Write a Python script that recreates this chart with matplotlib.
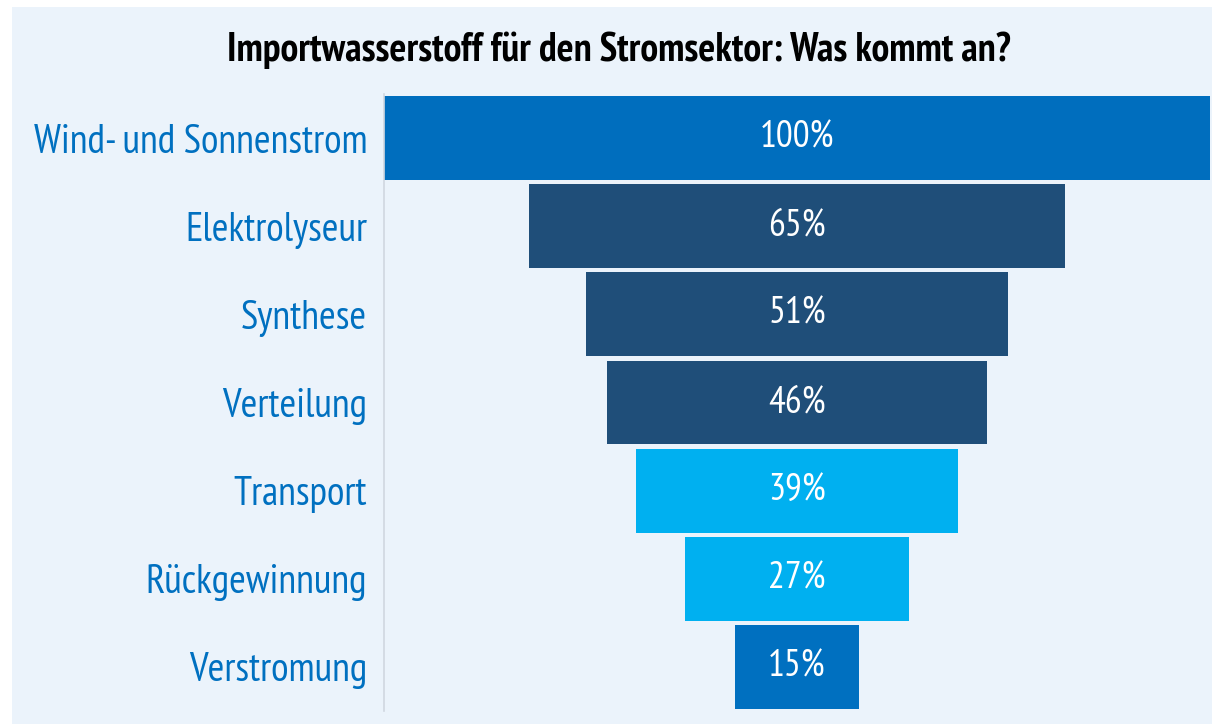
import matplotlib.pyplot as plt
from matplotlib.patches import Rectangle
from matplotlib import font_manager

# data
stages = ["Wind- und Sonnenstrom", "Elektrolyseur", "Synthese", "Verteilung",
          "Transport", "Rückgewinnung", "Verstromung"]
shares = [100, 65, 51, 46, 39, 27, 15]
bar_colors = ["#006EBE", "#1F4E79", "#1F4E79", "#1F4E79",
              "#00B0F0", "#00B0F0", "#0070C0"]

names = {f.name for f in font_manager.fontManager.ttflist}
fam = "DejaVu Sans"
for cand in ["PT Sans Narrow", "Fira Sans Condensed", "Roboto Condensed"]:
    if cand in names:
        fam = cand
        break
plt.rcParams['font.family'] = [fam, 'DejaVu Sans']

bg = "#EBF3FB"
fig = plt.figure(figsize=(12.12, 7.24), dpi=100)
fig.patch.set_facecolor("white")
fig.patches.append(Rectangle((12 / 1212, 0), 1 - 12 / 1212, 1 - 7 / 724,
                             transform=fig.transFigure, facecolor=bg,
                             edgecolor="none", zorder=-1))

ax = fig.add_axes([384 / 1212, 1 - 711 / 724, 826 / 1212, (711 - 94) / 724])
ax.set_facecolor(bg)

ypos = range(len(stages))
lefts = [50 - v / 2 for v in shares]
ax.barh(ypos, shares, left=lefts, height=0.95, color=bar_colors, zorder=2)

for y, v in zip(ypos, shares):
    ax.text(50, y, f"{v}%", ha="center", va="center", color="white",
            fontsize=27)

ax.set_xlim(0, 100)
ax.set_ylim(len(stages) - 0.5, -0.5)
ax.set_yticks(list(ypos))
ax.set_yticklabels(stages, fontsize=29, color="#0070C0")
ax.tick_params(axis="y", length=0, pad=20 - 8)
ax.set_xticks([])
for s in ["top", "right", "bottom"]:
    ax.spines[s].set_visible(False)
ax.spines["left"].set_color("#D0D7E0")
ax.spines["left"].set_linewidth(1.2)

fig.text(619 / 1212, 1 - 50 / 724, "Importwasserstoff für den Stromsektor: Was kommt an?",
         ha="center", va="center", fontsize=28.6, fontweight="bold", color="black")

fig.savefig("out.png", dpi=100, facecolor=fig.get_facecolor())
